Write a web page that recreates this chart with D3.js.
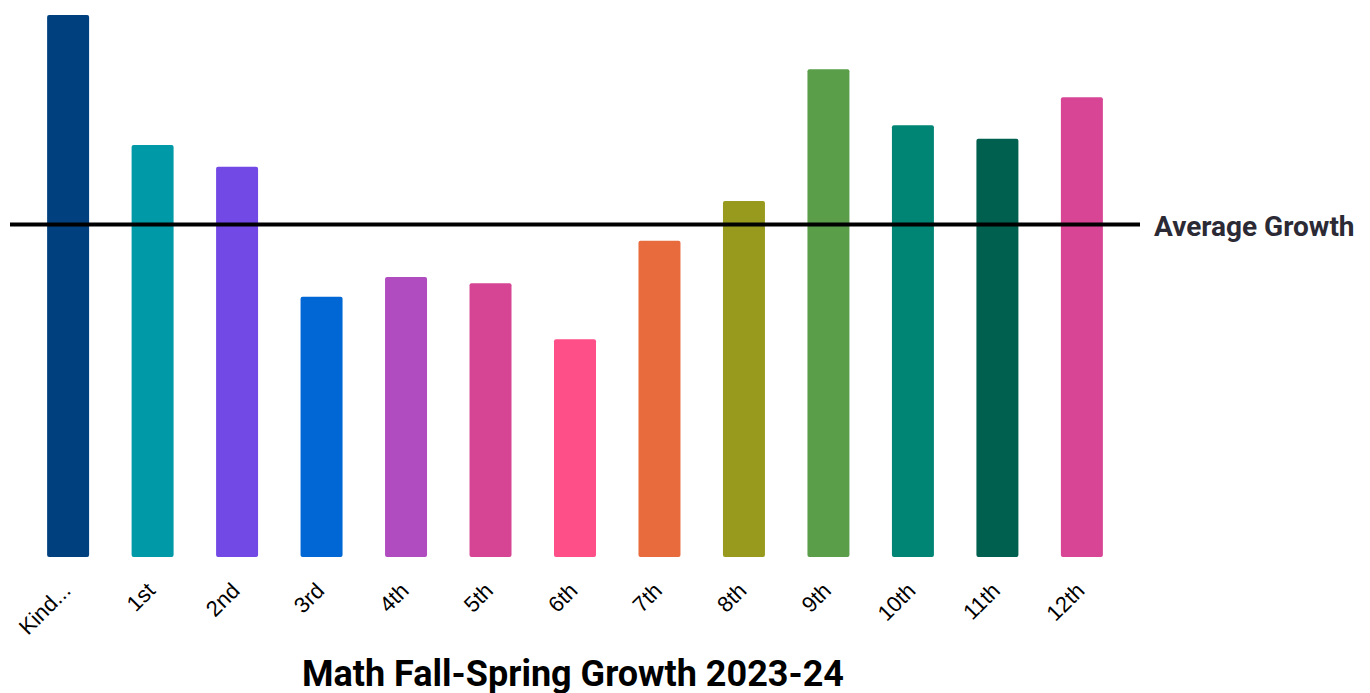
<!DOCTYPE html>
<html>
<head>
<meta charset="utf-8">
<script src="https://cdn.jsdelivr.net/npm/d3@7"></script>
<style>
  body { margin: 0; background: #fff; }
  text { font-family: Roboto, "Liberation Sans", sans-serif; }
</style>
</head>
<body>
<div class="chart"></div>
<script>
// grade levels along the x axis
var grades = ["Kindergarten", "1st", "2nd", "3rd", "4th", "5th", "6th", "7th", "8th", "9th", "10th", "11th", "12th"];
// growth values (no y axis shown, relative units)
var growth = [60, 45.6, 43.2, 28.8, 31.0, 30.3, 24.1, 35.0, 39.4, 54.0, 47.8, 46.3, 50.9];
var barColors = ["#00407f", "#0099a7", "#7349e6", "#0067d4", "#b04cbf", "#d64594", "#ff4f88",
                 "#e86b3e", "#979a1d", "#5a9e4a", "#008575", "#00604f", "#d84595"];
var averageGrowth = 36.8;
var averageLabel = "Average Growth";
var title = "Math Fall-Spring Growth 2023-24";

var svg = d3.select(".chart").append("svg")
  .attr("width", 1370).attr("height", 693);

var x = d3.scaleBand().domain(grades).range([26, 1124])
  .paddingInner(0.503).paddingOuter(0.25);

var y = d3.scaleLinear().domain([0, 60]).range([557, 15]);

//bars
svg.selectAll("rect.bar")
  .data(grades)
  .enter().append("rect")
  .attr("class", "bar")
  .attr("x", function(d) { return x(d); })
  .attr("y", function(d, i) { return y(growth[i]); })
  .attr("width", x.bandwidth())
  .attr("height", function(d, i) { return y(0) - y(growth[i]); })
  .attr("rx", 2)
  .attr("fill", function(d, i) { return barColors[i]; });

//x axis labels, rotated, long names truncated
var xAxis = d3.axisBottom(x).tickSize(0)
  .tickFormat(function(d) { return d.length > 5 ? d.slice(0, 4) + "..." : d; });

var xAxisGroup = svg.append("g")
  .attr("transform", "translate(0," + y(0) + ")")
  .call(xAxis);
xAxisGroup.select(".domain").remove();
xAxisGroup.selectAll("text")
  .style("font-size", "22px")
  .style("font-family", "'Liberation Sans', Arial, sans-serif")
  .attr("fill", "#000")
  .attr("text-anchor", "end")
  .attr("dy", null)
  .attr("y", 0)
  .attr("transform", "translate(4,35) rotate(-45)");

//average line
svg.append("line")
  .attr("x1", 10).attr("x2", 1140)
  .attr("y1", y(averageGrowth)).attr("y2", y(averageGrowth))
  .attr("stroke", "#000").attr("stroke-width", 4);

svg.append("text")
  .attr("x", 1154).attr("y", y(averageGrowth) + 2)
  .attr("dy", "0.35em")
  .style("font-size", "28px").attr("font-weight", "bold")
  .attr("fill", "#2b2a35")
  .text(averageLabel);

//title
svg.append("text")
  .attr("x", 573).attr("y", 686)
  .attr("text-anchor", "middle")
  .style("font-size", "36px").attr("font-weight", "bold")
  .attr("fill", "#000")
  .text(title);
</script>
</body>
</html>
